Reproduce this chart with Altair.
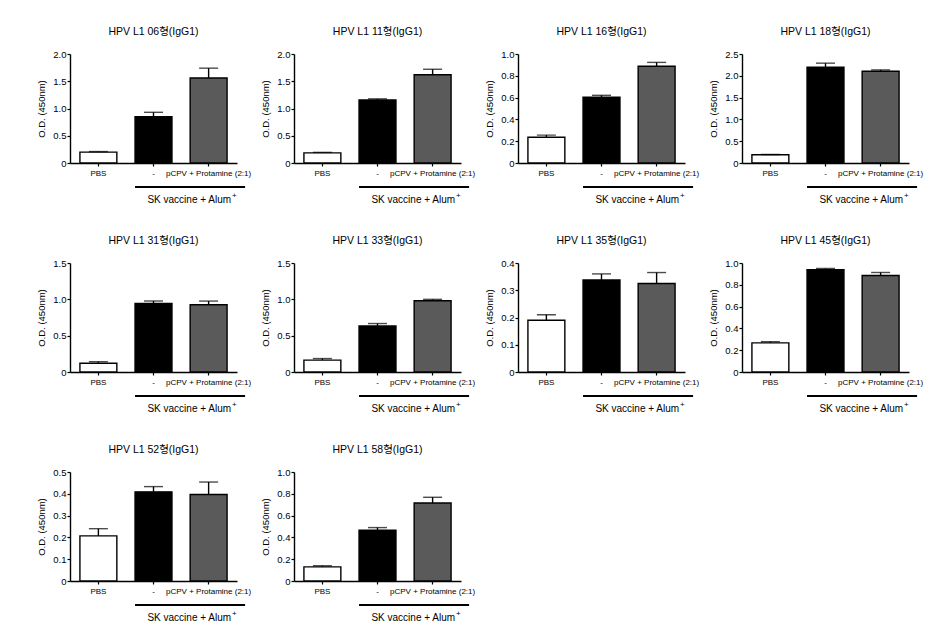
import altair as alt
import pandas as pd

# ---- data ----
groups = ["PBS", "-", "pCPV + Protamine (2:1)"]
serotypes = ["06", "11", "16", "18", "31", "33", "35", "45", "52", "58"]
pbs_mean = [0.20, 0.185, 0.236, 0.19, 0.12, 0.163, 0.19, 0.267, 0.207, 0.13]
pbs_err = [0.01, 0.01, 0.02, 0.006, 0.022, 0.022, 0.02, 0.012, 0.033, 0.01]
vac_mean = [0.85, 1.157, 0.603, 2.20, 0.944, 0.632, 0.338, 0.938, 0.409, 0.466]
vac_err = [0.08, 0.02, 0.018, 0.09, 0.033, 0.035, 0.022, 0.012, 0.024, 0.024]
pcpv_mean = [1.56, 1.62, 0.887, 2.105, 0.926, 0.98, 0.325, 0.885, 0.397, 0.715]
pcpv_err = [0.18, 0.10, 0.036, 0.03, 0.05, 0.02, 0.04, 0.028, 0.057, 0.053]
y_max = [2.0, 2.0, 1.0, 2.5, 1.5, 1.5, 0.4, 1.0, 0.5, 1.0]
y_step = [0.5, 0.5, 0.2, 0.5, 0.5, 0.5, 0.1, 0.2, 0.1, 0.2]
bar_colors = ["#ffffff", "#000000", "#5a5a5a"]
group_label = "SK vaccine + Alum"
group_sup = "+"

FONT = "Liberation Sans, Noto Sans CJK KR, sans-serif"
W, H = 167, 109

panels = []
for i, s in enumerate(serotypes):
    means = [pbs_mean[i], vac_mean[i], pcpv_mean[i]]
    errs = [pbs_err[i], vac_err[i], pcpv_err[i]]
    df = pd.DataFrame({
        "group": groups,
        "mean": means,
        "top": [m + e for m, e in zip(means, errs)],
    })
    n = int(round(y_max[i] / y_step[i]))
    ticks = [round(k * y_step[i], 3) for k in range(n + 1)]

    xscale = alt.Scale(domain=groups, paddingInner=0.33, paddingOuter=0.18)
    xaxis = alt.Axis(labelAngle=0, labelFontSize=8, labelColor="black",
                     tickSize=3, tickColor="black", tickWidth=1.2,
                     domainColor="black", domainWidth=1.4, labelPadding=3,
                     labelFont=FONT, labelOverlap=False)
    yscale = alt.Scale(domain=[0, y_max[i]], nice=False, zero=True)
    yaxis = alt.Axis(values=ticks, tickCount=len(ticks), labelOverlap=False,
                     labelExpr="datum.value == 0 ? '0' : format(datum.value, '.1f')",
                     labelFontSize=9.5, labelColor="black", labelPadding=1,
                     tickSize=3, tickColor="black", tickWidth=1.2,
                     domainColor="black", domainWidth=1.4,
                     titleFontSize=9.5, titleFontWeight="normal",
                     titleColor="black", titlePadding=6, titleFont=FONT,
                     labelFont=FONT)
    ytitle = "O.D. (450nm)"

    base = alt.Chart(df)
    bars = base.mark_bar(stroke="black", strokeWidth=1.4).encode(
        x=alt.X("group:N", scale=xscale, axis=xaxis, title=None),
        y=alt.Y("mean:Q", scale=yscale, axis=yaxis, title=ytitle),
        fill=alt.Fill("group:N", scale=alt.Scale(domain=groups, range=bar_colors),
                      legend=None),
    )
    err = base.mark_rule(color="black", strokeWidth=1.4).encode(
        x=alt.X("group:N", scale=xscale, axis=xaxis, title=None),
        y=alt.Y("mean:Q", scale=yscale, axis=yaxis, title=ytitle),
        y2="top:Q",
    )
    cap = base.mark_tick(color="black", size=19, thickness=1.4).encode(
        x=alt.X("group:N", scale=xscale, axis=xaxis, title=None),
        y=alt.Y("top:Q", scale=yscale, axis=yaxis, title=ytitle),
    )

    ann = pd.DataFrame({"start": [groups[1]], "end": [groups[2]],
                        "label": [group_label], "sup": [group_sup]})
    a = alt.Chart(ann)
    line = a.mark_rule(color="black", strokeWidth=2, x2Offset=18).encode(
        x=alt.X("start:N", bandPosition=0, scale=xscale, axis=xaxis, title=None),
        x2=alt.X2("end:N", bandPosition=1),
        y=alt.value(H + 24),
    )
    txt = a.mark_text(align="right", baseline="alphabetic", fontSize=10, dx=4,
                      font=FONT, color="black").encode(
        x=alt.X("end:N", bandPosition=1, scale=xscale, axis=xaxis, title=None),
        y=alt.value(H + 40), text="label:N",
    )
    sup = a.mark_text(align="left", baseline="alphabetic", fontSize=8, dx=5,
                      dy=-5, font=FONT, color="black").encode(
        x=alt.X("end:N", bandPosition=1, scale=xscale, axis=xaxis, title=None),
        y=alt.value(H + 40), text="sup:N",
    )

    panel = alt.layer(bars, err, cap, line, txt, sup).properties(
        width=W, height=H,
        title=alt.TitleParams(text=f"HPV L1 {s}형(IgG1)", fontSize=10.5,
                              fontWeight="normal", font=FONT, color="black",
                              anchor="middle", offset=12),
    )
    panels.append(panel)

chart = alt.concat(
    *panels, columns=4,
    spacing=alt.RowColnumber(row=100, column=57),
    bounds="flush",
).configure_view(stroke=None).configure_axis(grid=False).properties(
    padding={"left": 28, "top": 18, "right": 5, "bottom": 5}
)

chart.save("out.html", embed_options={"renderer": "svg", "actions": False})
